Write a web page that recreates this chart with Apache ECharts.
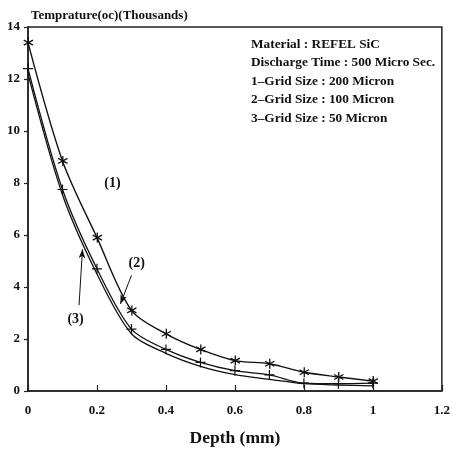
<!DOCTYPE html>
<html>
<head>
<meta charset="utf-8">
<script src="https://cdn.jsdelivr.net/npm/echarts@6/dist/echarts.min.js"></script>
<style>html,body{margin:0;padding:0;background:#fff;}#c{width:453px;height:452px;}</style>
</head>
<body>
<div id="c"></div>
<script>
const depth = [0, 0.1, 0.2, 0.3, 0.4, 0.5, 0.6, 0.7, 0.8, 0.9, 1.0];
const grid200 = [13.4, 8.85, 5.9, 3.1, 2.2, 1.6, 1.17, 1.05, 0.72, 0.54, 0.38];
const grid100 = [12.4, 7.75, 4.7, 2.38, 1.6, 1.1, 0.78, 0.62, 0.3, 0.28, 0.3];
const grid50 = [12.2, 7.55, 4.5, 2.2, 1.45, 0.95, 0.63, 0.45, 0.28, 0.23, 0.2];
const xTicks = [0, 0.2, 0.4, 0.6, 0.8, 1, 1.2];
const yTicks = [0, 2, 4, 6, 8, 10, 12, 14];
const infoLines = ['Material : REFEL SiC', 'Discharge Time : 500 Micro Sec.', '1\u2013Grid Size : 200 Micron', '2\u2013Grid Size : 100 Micron', '3\u2013Grid Size : 50 Micron'];
const curveLabels = [{name: '(1)', coord: [0.245, 8.0]}, {name: '(2)', coord: [0.315, 4.9]}, {name: '(3)', coord: [0.138, 2.75]}];
const arrows = [[[0.30, 4.45], [0.268, 3.35]], [[0.148, 3.3], [0.158, 5.45]]];

const FONT = '"Liberation Serif", "DejaVu Serif", serif';
const pair = (xs, ys) => xs.map((x, i) => [x, ys[i]]);
const star = 'path://M0,-1L0,1M-0.87,-0.5L0.87,0.5M-0.87,0.5L0.87,-0.5M-1,-0.02L-1,0.02';
const plus = 'path://M0,-1L0,1M-1,0L1,0';

const chart = echarts.init(document.getElementById('c'));
chart.setOption({
  animation: false,
  backgroundColor: '#fff',
  title: {
    text: 'Temprature(oc)(Thousands)', left: 26, top: 4,
    textStyle: {fontFamily: FONT, fontWeight: 'bold', fontSize: 13, color: '#111'}
  },
  graphic: [{
    type: 'text', left: 251, top: 35,
    style: {
      text: infoLines.join('\n'), fontFamily: FONT, fontWeight: 'bold', fontSize: 13.3,
      lineHeight: 18.5, fill: '#111'
    }
  }],
  grid: {left: 28, right: 9, top: 27, bottom: 61, show: true, borderColor: '#222', borderWidth: 1.5, backgroundColor: 'transparent'},
  xAxis: {
    type: 'value', min: 0, max: 1.2, interval: 0.2,
    name: 'Depth (mm)', nameLocation: 'middle', nameGap: 38,
    nameTextStyle: {fontFamily: FONT, fontWeight: 'bold', fontSize: 17.5, color: '#111'},
    axisLine: {lineStyle: {color: '#222', width: 1.5}},
    axisTick: {inside: true, length: 6, lineStyle: {color: '#222', width: 1.2}},
    splitLine: {show: false},
    axisLabel: {
      margin: 13, fontFamily: FONT, fontWeight: 'bold', fontSize: 13, color: '#111',
      formatter: v => { const t = xTicks.find(k => Math.abs(k - v) < 1e-6); return t === undefined ? '' : String(t); }
    }
  },
  yAxis: {
    type: 'value', min: 0, max: 14, interval: 2,
    axisLine: {lineStyle: {color: '#222', width: 1.5}},
    axisTick: {inside: false, length: 4, lineStyle: {color: '#222', width: 1.2}},
    splitLine: {show: false},
    axisLabel: {
      margin: 8, fontFamily: FONT, fontWeight: 'bold', fontSize: 13, color: '#111',
      formatter: v => { const t = yTicks.find(k => Math.abs(k - v) < 1e-6); return t === undefined ? '' : String(t); }
    }
  },
  series: [
    {
      type: 'line', name: '200', data: pair(depth, grid200), smooth: 0.3,
      lineStyle: {color: '#111', width: 1.4},
      symbol: star, symbolSize: 10,
      itemStyle: {color: 'none', borderColor: '#111', borderWidth: 1.3},
      markPoint: {
        symbol: 'circle', symbolSize: 1, itemStyle: {color: 'rgba(0,0,0,0)'},
        label: {show: true, formatter: p => p.name, fontFamily: FONT, fontWeight: 'bold', fontSize: 14, color: '#111'},
        data: curveLabels
      }
    },
    {
      type: 'line', name: '100', data: pair(depth, grid100), smooth: 0.3,
      lineStyle: {color: '#111', width: 1.3},
      symbol: plus, symbolSize: 10,
      itemStyle: {color: 'none', borderColor: '#111', borderWidth: 1.2},
      markLine: {
        silent: true, symbol: ['none', 'arrow'], symbolSize: [5, 9],
        lineStyle: {color: '#111', width: 1, type: 'solid'}, label: {show: false},
        data: arrows.map(a => [{coord: a[0]}, {coord: a[1]}])
      }
    },
    {
      type: 'line', name: '50', data: pair(depth, grid50), smooth: 0.3,
      lineStyle: {color: '#111', width: 1.3},
      symbol: 'path://M0,-1L0,1', symbolSize: [2, 8],
      itemStyle: {color: 'none', borderColor: '#111', borderWidth: 1}
    }
  ]
});
</script>
</body>
</html>
